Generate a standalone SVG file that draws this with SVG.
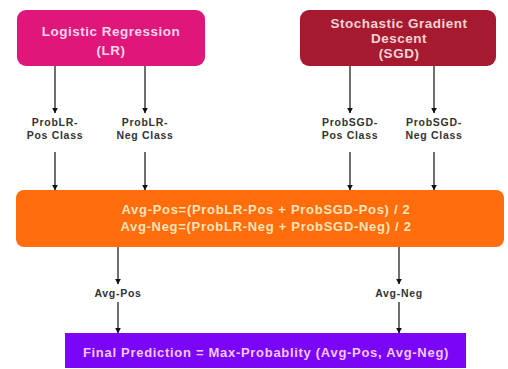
<svg xmlns="http://www.w3.org/2000/svg" width="508" height="369" viewBox="0 0 508 369">
<defs>
<style>
.t{font-family:"Liberation Sans",Arial,sans-serif;font-weight:bold;text-anchor:middle}
.title{font-size:13.5px;letter-spacing:0.5px}
.lbl{font-size:10.5px;fill:#333;letter-spacing:0.7px}
.big{font-size:13px;letter-spacing:0.7px}
.conn line{stroke:#222;stroke-width:1.3;marker-end:url(#ah)}
</style>
<marker id="ah" viewBox="0 0 10 10" refX="9" refY="5" markerWidth="6" markerHeight="6" markerUnits="userSpaceOnUse" orient="auto">
<path d="M0,0 L10,5 L0,10 z" fill="#111"/>
</marker>
</defs>
<rect width="508" height="369" fill="#fff"/>
<g id="lr">
<rect x="17" y="10" width="188" height="56" rx="9" fill="#e0177b"/>
<text class="t title" x="111" y="36" fill="#f9d3ea">Logistic Regression</text>
<text class="t title" x="111" y="55" fill="#f9d3ea">(LR)</text>
</g>
<g id="sgd">
<rect x="300" y="10" width="196" height="56" rx="9" fill="#a51a2f"/>
<text class="t title" x="399" y="28" fill="#f3d3d6">Stochastic Gradient</text>
<text class="t title" x="399" y="43" fill="#f3d3d6">Descent</text>
<text class="t title" x="399" y="58" fill="#f3d3d6">(SGD)</text>
</g>
<g id="lrpos"><text class="t lbl" x="55" y="126">ProbLR-</text><text class="t lbl" x="55" y="139">Pos Class</text></g>
<g id="lrneg"><text class="t lbl" x="145" y="126">ProbLR-</text><text class="t lbl" x="145" y="139">Neg Class</text></g>
<g id="sgdpos"><text class="t lbl" x="350" y="126">ProbSGD-</text><text class="t lbl" x="350" y="139">Pos Class</text></g>
<g id="sgdneg"><text class="t lbl" x="434" y="126">ProbSGD-</text><text class="t lbl" x="434" y="139">Neg Class</text></g>
<g id="avg">
<rect x="16" y="190" width="488" height="57" rx="8" fill="#ff6d0c"/>
<text class="t big" x="266" y="214" fill="#ffe3b8">Avg-Pos=(ProbLR-Pos + ProbSGD-Pos) / 2</text>
<text class="t big" x="266" y="231" fill="#ffe3b8">Avg-Neg=(ProbLR-Neg + ProbSGD-Neg) / 2</text>
</g>
<g id="avgpos"><text class="t lbl" x="118" y="297">Avg-Pos</text></g>
<g id="avgneg"><text class="t lbl" x="399" y="297">Avg-Neg</text></g>
<g id="final">
<rect x="65" y="333" width="401" height="35" fill="#7a05f7"/>
<text class="t big" x="266" y="357" fill="#f2c8ff">Final Prediction = Max-Probablity (Avg-Pos, Avg-Neg)</text>
</g>
<g id="connectors" class="conn">
<line x1="55" y1="66" x2="55" y2="113"/>
<line x1="145" y1="66" x2="145" y2="113"/>
<line x1="350" y1="66" x2="350" y2="113"/>
<line x1="434" y1="66" x2="434" y2="113"/>
<line x1="55" y1="152" x2="55" y2="190"/>
<line x1="145" y1="152" x2="145" y2="190"/>
<line x1="350" y1="152" x2="350" y2="190"/>
<line x1="434" y1="152" x2="434" y2="190"/>
<line x1="118" y1="247" x2="118" y2="284"/>
<line x1="399" y1="247" x2="399" y2="284"/>
<line x1="118" y1="302" x2="118" y2="333"/>
<line x1="399" y1="302" x2="399" y2="333"/>
</g>
</svg>
